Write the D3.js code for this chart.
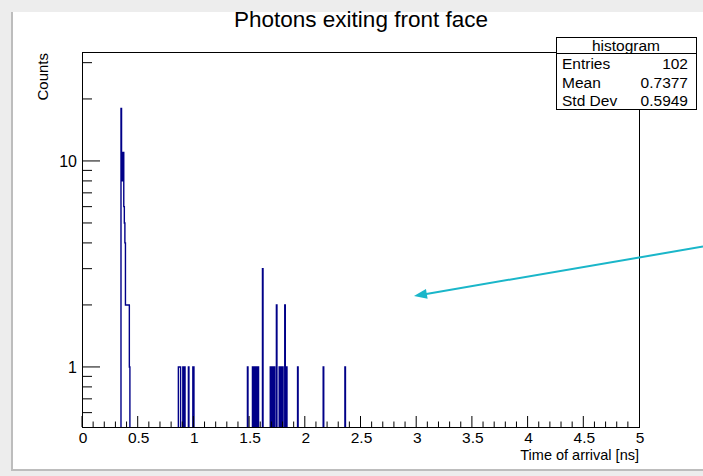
<!DOCTYPE html>
<html>
<head>
<meta charset="utf-8">
<script src="https://cdn.jsdelivr.net/npm/d3@7"></script>
<style>
  html, body { margin: 0; padding: 0; background: #ededed; }
  text { font-family: "Liberation Sans", Arial, Helvetica, sans-serif; fill: #000; }
</style>
</head>
<body>
<div id="chart"></div>
<script>
// Window size (should match the screenshot)
var w = 703;
var h = 476;

// Histogram binning: 1000 bins from 0 to 5 ns
var xMin = 0, xMax = 5, nBins = 1000;
var binWidth = (xMax - xMin) / nBins;

// Filled bins: lower edge [ns] and counts
var binEdges = [
  0.350, 0.355, 0.360, 0.365, 0.370, 0.375, 0.380, 0.385, 0.390, 0.395,
  0.400, 0.405, 0.410, 0.415, 0.420, 0.425,
  0.865, 0.870, 0.875, 0.880, 0.905, 0.920, 0.955, 0.995, 1.000,
  1.485, 1.530, 1.540, 1.545, 1.555, 1.565, 1.580, 1.620,
  1.690, 1.700, 1.710, 1.725, 1.745, 1.770, 1.785, 1.800, 1.820, 1.835,
  1.935, 2.165, 2.360
];
var binCounts = [
  18, 8, 8, 11, 11, 6, 5, 4, 2, 2,
  2, 2, 2, 2, 2, 1,
  1, 1, 1, 1, 1, 1, 1, 1, 1,
  1, 1, 1, 1, 1, 1, 1, 3,
  1, 1, 1, 1, 2, 1, 1, 1, 2, 1,
  1, 1, 1
];

// Axis ticks and labels
var xMajorTicks = [0, 0.5, 1, 1.5, 2, 2.5, 3, 3.5, 4, 4.5, 5];
var xTickLabels = ["0", "0.5", "1", "1.5", "2", "2.5", "3", "3.5", "4", "4.5", "5"];
var yMajorTicks = [1, 10];
var yTickLabels = ["1", "10"];
var yMinorTicks = [0.6, 0.7, 0.8, 0.9, 2, 3, 4, 5, 6, 7, 8, 9, 20, 30];
var yDomain = [0.511, 33.8];

// Stats box
var statNames = ["Entries", "Mean", "Std Dev"];
var statValues = ["102", "0.7377", "0.5949"];

// Annotation arrow (data coordinates: from -> to)
var arrowFrom = [5.575, 3.84];
var arrowTo = [2.98, 2.21];

// Frame of the pad
var frame = { left: 82, right: 639, top: 52, bottom: 427 };

var svg = d3.select('#chart').append('svg')
  .attr('width', w)
  .attr('height', h)
  .style('display', 'block');

// canvas with a soft edge
svg.append('rect').attr('x', 11).attr('y', 12).attr('width', w - 11).attr('height', 459)
  .attr('fill', '#bdbdbd');
svg.append('rect').attr('x', 13).attr('y', 12).attr('width', w - 13).attr('height', 457)
  .attr('fill', '#fff');

var x = d3.scaleLinear().domain([xMin, xMax]).range([frame.left, frame.right]);
var y = d3.scaleLog().domain(yDomain).range([frame.bottom, frame.top]);

// full bin contents
var counts = new Array(nBins).fill(0);
binEdges.forEach(function(e, i) {
  counts[Math.round(e / binWidth)] += binCounts[i];
});

var pts = [];
counts.forEach(function(c, i) {
  pts.push([xMin + i * binWidth, c]);
});
pts.push([xMax, 0]);

svg.append('clipPath').attr('id', 'frameclip')
  .append('rect')
  .attr('x', frame.left).attr('y', frame.top)
  .attr('width', frame.right - frame.left).attr('height', frame.bottom - frame.top);

var histLine = d3.line()
  .x(function(d) { return x(d[0]); })
  .y(function(d) { return d[1] > 0 ? y(d[1]) : frame.bottom + 3; })
  .curve(d3.curveStepAfter);

svg.append('path')
  .attr('clip-path', 'url(#frameclip)')
  .attr('d', histLine(pts))
  .attr('fill', 'none')
  .attr('stroke', '#000088')
  .attr('stroke-width', 1.4);

// x axis ticks (pointing inwards)
var xMinor = d3.range(0, 50).map(function(i) { return i / 10; });
svg.append('g').selectAll('line')
  .data(xMinor)
  .enter().append('line')
  .attr('x1', function(d) { return x(d); })
  .attr('x2', function(d) { return x(d); })
  .attr('y1', frame.bottom)
  .attr('y2', function(d, i) { return frame.bottom - (i % 5 === 0 ? 11 : 5.5); })
  .attr('stroke', '#000').attr('stroke-width', 1);

svg.append('g').selectAll('text')
  .data(xMajorTicks)
  .enter().append('text')
  .attr('x', function(d) { return x(d) + 1; })
  .attr('y', frame.bottom + 16)
  .attr('text-anchor', 'middle')
  .style('font-size', '15.5px')
  .text(function(d, i) { return xTickLabels[i]; });

svg.append('text')
  .attr('x', frame.right)
  .attr('y', frame.bottom + 33)
  .attr('text-anchor', 'end')
  .style('font-size', '14.5px')
  .text('Time of arrival [ns]');

// y axis ticks
svg.append('g').selectAll('line')
  .data(yMinorTicks)
  .enter().append('line')
  .attr('x1', frame.left).attr('x2', frame.left + 10)
  .attr('y1', function(d) { return y(d); })
  .attr('y2', function(d) { return y(d); })
  .attr('stroke', '#000').attr('stroke-width', 1);

svg.append('g').selectAll('line')
  .data(yMajorTicks)
  .enter().append('line')
  .attr('x1', frame.left).attr('x2', frame.left + 18)
  .attr('y1', function(d) { return y(d); })
  .attr('y2', function(d) { return y(d); })
  .attr('stroke', '#000').attr('stroke-width', 1);

svg.append('g').selectAll('text')
  .data(yMajorTicks)
  .enter().append('text')
  .attr('x', frame.left - 5)
  .attr('y', function(d) { return y(d) + 6; })
  .attr('text-anchor', 'end')
  .style('font-size', '16px')
  .text(function(d, i) { return yTickLabels[i]; });

svg.append('text')
  .attr('transform', 'translate(48,' + (frame.top + 1) + ') rotate(-90)')
  .attr('text-anchor', 'end')
  .style('font-size', '15px')
  .text('Counts');

// frame
svg.append('rect')
  .attr('x', frame.left + 0.5).attr('y', frame.top + 0.5)
  .attr('width', frame.right - frame.left).attr('height', frame.bottom - frame.top)
  .attr('fill', 'none').attr('stroke', '#000').attr('stroke-width', 1);

// title
svg.append('text')
  .attr('x', 361).attr('y', 27)
  .attr('text-anchor', 'middle')
  .style('font-size', '22.5px')
  .text('Photons exiting front face');

// stats box
var sb = { x: 556, y: 37, w: 140, h: 72, head: 16 };
var stats = svg.append('g');
stats.append('rect')
  .attr('x', sb.x + 0.5).attr('y', sb.y + 0.5).attr('width', sb.w).attr('height', sb.h)
  .attr('fill', '#fff').attr('stroke', '#000').attr('stroke-width', 1);
stats.append('line')
  .attr('x1', sb.x).attr('x2', sb.x + sb.w)
  .attr('y1', sb.y + sb.head + 0.5).attr('y2', sb.y + sb.head + 0.5)
  .attr('stroke', '#000');
stats.append('text')
  .attr('x', sb.x + sb.w / 2).attr('y', sb.y + 13.5)
  .attr('text-anchor', 'middle')
  .style('font-size', '15.5px')
  .text('histogram');
stats.selectAll('text.name')
  .data(statNames)
  .enter().append('text')
  .attr('class', 'name')
  .attr('x', sb.x + 6)
  .attr('y', function(d, i) { return sb.y + 32 + i * 18.5; })
  .style('font-size', '15.5px')
  .text(function(d) { return d; });
stats.selectAll('text.val')
  .data(statValues)
  .enter().append('text')
  .attr('class', 'val')
  .attr('x', sb.x + sb.w - 8)
  .attr('y', function(d, i) { return sb.y + 32 + i * 18.5; })
  .attr('text-anchor', 'end')
  .style('font-size', '15.5px')
  .text(function(d) { return d; });

// annotation arrow
var ax0 = x(arrowFrom[0]), ay0 = y(arrowFrom[1]);
var ax1 = x(arrowTo[0]), ay1 = y(arrowTo[1]);
var len = Math.hypot(ax1 - ax0, ay1 - ay0);
var ux = (ax1 - ax0) / len, uy = (ay1 - ay0) / len;
var headLen = 13, headHalf = 5;
var bx = ax1 - ux * headLen, by = ay1 - uy * headLen;
svg.append('line')
  .attr('x1', ax0).attr('y1', ay0)
  .attr('x2', bx + ux * 2).attr('y2', by + uy * 2)
  .attr('stroke', '#1ab6c9').attr('stroke-width', 2);
svg.append('path')
  .attr('d', 'M' + ax1 + ',' + ay1 +
    'L' + (bx - uy * headHalf) + ',' + (by + ux * headHalf) +
    'L' + (bx + uy * headHalf) + ',' + (by - ux * headHalf) + 'Z')
  .attr('fill', '#1ab6c9');
</script>
</body>
</html>
